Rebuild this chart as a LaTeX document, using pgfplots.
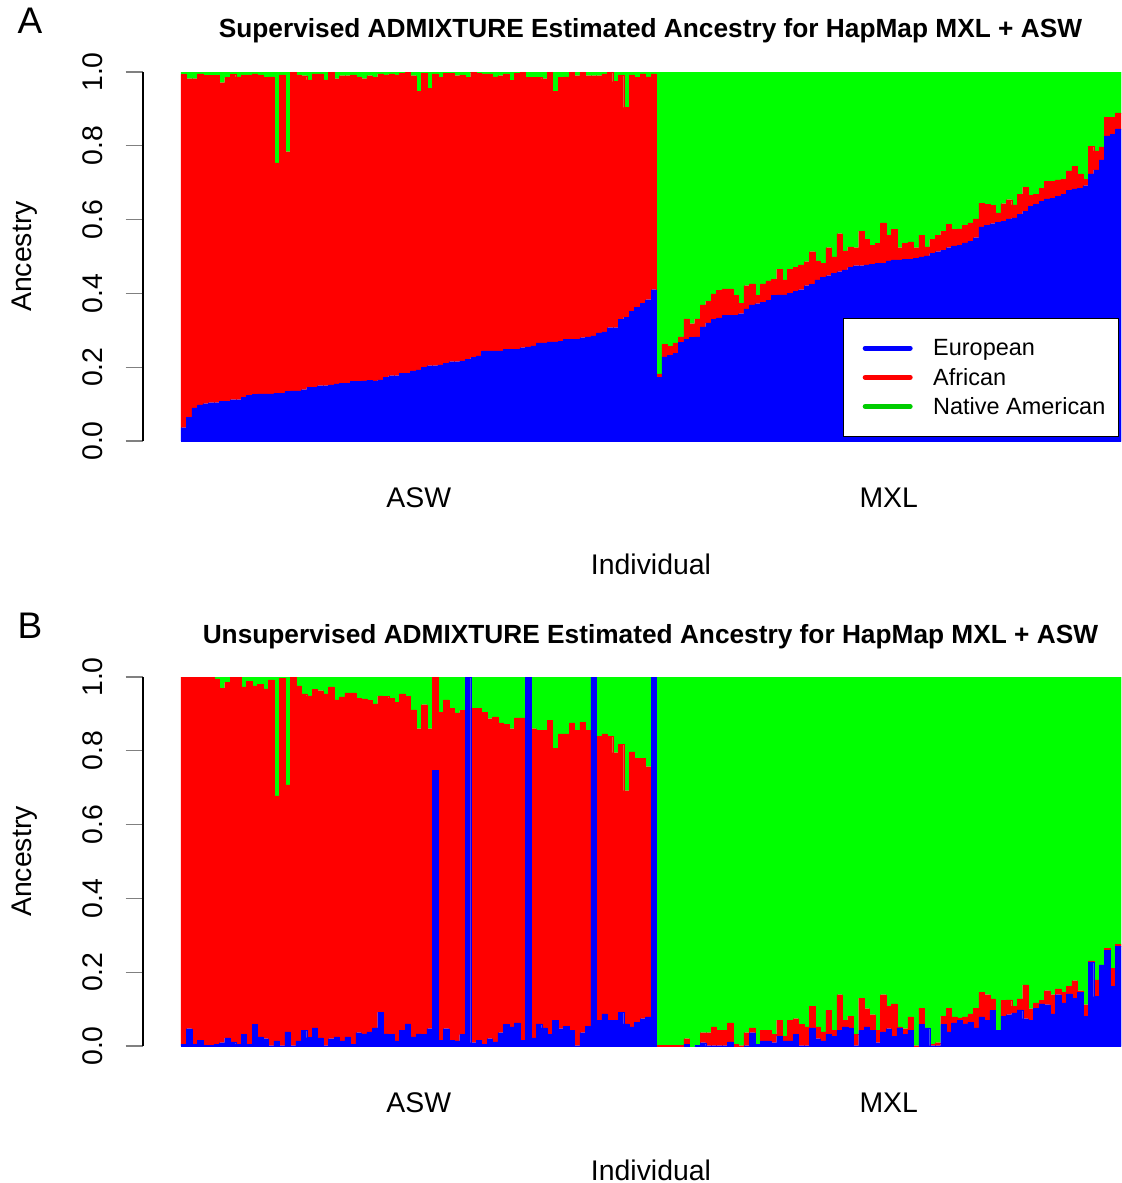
\documentclass[border=0pt]{standalone}
\usepackage{fontspec}
\setmainfont{Liberation Sans}
\usepackage{pgfplots}
\usepackage{pgfplotstable}
\pgfplotsset{compat=1.18}
\definecolor{rblue}{RGB}{0,0,255}
\definecolor{rred}{RGB}{255,0,0}
\definecolor{rgreen}{RGB}{0,255,0}
\definecolor{rgreenthree}{RGB}{0,205,0}

% ae/at: supervised European and European+African (cumulative), be/bt: unsupervised
\pgfplotstableread{
ae at be bt
0.036 0.993 0.005 1.000
0.065 0.982 0.047 1.000
0.090 0.982 0.004 1.000
0.098 0.995 0.016 1.000
0.101 0.991 0.002 1.000
0.104 0.991 0.002 1.000
0.104 0.991 0.004 0.995
0.108 0.971 0.009 0.970
0.108 0.985 0.022 0.985
0.112 0.994 0.011 1.000
0.112 0.987 0.005 1.000
0.119 0.992 0.031 0.973
0.123 0.992 0.004 0.989
0.126 0.995 0.058 0.976
0.128 0.992 0.025 0.981
0.128 0.985 0.020 0.968
0.128 0.987 0.001 0.992
0.130 0.754 0.014 0.678
0.130 0.992 0.001 0.997
0.134 0.784 0.038 0.708
0.136 1.000 0.001 1.000
0.136 0.992 0.014 0.976
0.139 0.990 0.043 0.954
0.145 0.979 0.023 0.949
0.146 0.995 0.049 0.967
0.150 0.995 0.022 0.963
0.150 0.979 0.001 0.954
0.152 1.000 0.020 0.973
0.155 0.982 0.025 0.938
0.157 0.990 0.014 0.946
0.157 0.990 0.025 0.957
0.161 0.992 0.004 0.957
0.161 0.987 0.036 0.943
0.163 0.982 0.033 0.941
0.165 0.990 0.038 0.936
0.163 0.985 0.049 0.927
0.166 0.995 0.092 0.949
0.172 0.992 0.033 0.947
0.177 0.995 0.031 0.943
0.177 0.992 0.014 0.932
0.184 0.996 0.043 0.954
0.184 0.999 0.060 0.947
0.190 0.990 0.025 0.911
0.193 0.947 0.033 0.860
0.199 0.997 0.031 0.925
0.204 0.955 0.047 0.860
0.204 0.995 0.748 1.000
0.206 0.985 0.016 0.905
0.210 0.997 0.047 0.938
0.215 0.997 0.016 0.916
0.215 0.990 0.014 0.903
0.217 0.992 0.031 0.909
0.222 0.985 1.000 1.000
0.226 1.000 0.009 0.916
0.231 0.997 0.016 0.916
0.244 0.995 0.005 0.905
0.244 0.995 0.020 0.887
0.244 0.987 0.011 0.892
0.244 0.990 0.036 0.876
0.248 0.995 0.058 0.871
0.249 0.977 0.052 0.860
0.249 0.997 0.063 0.889
0.253 1.000 0.016 0.889
0.255 0.985 1.000 1.000
0.258 0.985 0.022 0.860
0.266 0.985 0.060 0.855
0.266 0.982 0.049 0.855
0.269 1.000 0.031 0.883
0.269 0.947 0.069 0.806
0.271 0.985 0.047 0.846
0.275 0.987 0.054 0.846
0.276 1.000 0.042 0.876
0.276 0.990 0.001 0.855
0.280 1.000 0.036 0.878
0.282 0.990 0.054 0.856
0.285 0.990 1.000 1.000
0.293 0.990 0.070 0.840
0.296 0.995 0.087 0.846
0.307 1.000 0.070 0.840
0.307 0.974 0.069 0.795
0.329 0.992 0.092 0.817
0.336 0.904 0.060 0.692
0.352 0.992 0.052 0.797
0.363 0.985 0.065 0.779
0.374 0.995 0.074 0.780
0.383 0.987 0.079 0.757
0.410 0.995 1.000 1.000
0.173 0.182 0.000 0.002
0.228 0.262 0.000 0.002
0.232 0.257 0.000 0.002
0.237 0.266 0.000 0.002
0.268 0.282 0.000 0.002
0.276 0.331 0.004 0.020
0.281 0.318 0.000 0.000
0.282 0.331 0.002 0.002
0.309 0.369 0.009 0.036
0.320 0.379 0.001 0.036
0.329 0.399 0.001 0.052
0.334 0.408 0.001 0.043
0.340 0.412 0.001 0.042
0.340 0.412 0.011 0.063
0.340 0.394 0.000 0.005
0.345 0.374 0.000 0.001
0.358 0.421 0.001 0.036
0.369 0.426 0.036 0.049
0.372 0.394 0.005 0.005
0.376 0.426 0.014 0.043
0.381 0.434 0.014 0.042
0.394 0.439 0.009 0.031
0.396 0.466 0.027 0.070
0.396 0.437 0.014 0.027
0.401 0.466 0.014 0.069
0.405 0.470 0.031 0.074
0.410 0.477 0.001 0.058
0.421 0.486 0.001 0.052
0.425 0.513 0.049 0.108
0.437 0.488 0.020 0.052
0.444 0.482 0.014 0.038
0.448 0.524 0.031 0.096
0.455 0.499 0.027 0.042
0.459 0.562 0.042 0.139
0.464 0.515 0.052 0.070
0.470 0.526 0.049 0.081
0.475 0.524 0.001 0.031
0.475 0.569 0.042 0.130
0.477 0.546 0.052 0.101
0.479 0.531 0.042 0.085
0.481 0.535 0.009 0.042
0.481 0.591 0.038 0.139
0.488 0.558 0.047 0.107
0.491 0.573 0.027 0.114
0.491 0.524 0.049 0.052
0.493 0.535 0.031 0.047
0.493 0.540 0.043 0.079
0.495 0.524 0.000 0.001
0.499 0.558 0.058 0.103
0.502 0.526 0.049 0.049
0.508 0.546 0.001 0.005
0.513 0.558 0.001 0.009
0.517 0.569 0.058 0.081
0.524 0.587 0.038 0.103
0.529 0.573 0.063 0.079
0.531 0.575 0.069 0.076
0.537 0.584 0.060 0.079
0.542 0.591 0.065 0.087
0.551 0.602 0.049 0.103
0.580 0.645 0.079 0.146
0.584 0.641 0.069 0.139
0.589 0.638 0.096 0.128
0.593 0.618 0.042 0.043
0.596 0.643 0.081 0.123
0.602 0.654 0.085 0.125
0.605 0.640 0.090 0.108
0.614 0.668 0.098 0.128
0.623 0.688 0.074 0.166
0.636 0.665 0.070 0.101
0.641 0.668 0.103 0.117
0.649 0.685 0.114 0.123
0.656 0.703 0.112 0.150
0.658 0.703 0.087 0.139
0.663 0.708 0.139 0.155
0.668 0.710 0.117 0.145
0.679 0.732 0.141 0.161
0.683 0.744 0.130 0.177
0.685 0.724 0.146 0.150
0.692 0.710 0.081 0.112
0.724 0.799 0.228 0.231
0.735 0.786 0.134 0.179
0.762 0.797 0.220 0.220
0.827 0.878 0.260 0.264
0.831 0.878 0.161 0.211
0.846 0.889 0.271 0.275
}\admix

\pgfplotsset{
  admix/.style={
    scale only axis, width=733.5pt, height=276.75pt,
    xmin=-6.953, xmax=172, ymin=0, ymax=1,
    ybar stacked, bar width=1,
    axis x line*=bottom, axis y line*=left,
    x axis line style={draw=none},
    y axis line style={line width=1pt},
    tick align=outside, major tick length=13pt,
    xtick={43.5,129.5}, xticklabels={ASW,MXL},
    xtick style={draw=none},
    ytick={0,0.2,0.4,0.6,0.8,1}, yticklabels={0.0,0.2,0.4,0.6,0.8,1.0},
    ytick style={line width=1pt},
    tick label style={font=\fontsize{21.3}{25}\selectfont},
    yticklabel style={rotate=90, anchor=base},
    yticklabel shift=17.75pt,
    xticklabel style={anchor=base, yshift=-36.5pt},
    label style={font=\fontsize{21.3}{25}\selectfont},
    xlabel={Individual}, ylabel={Ancestry},
    xlabel style={at={(axis description cs:0.5194,-0.3631)}, anchor=base},
    ylabel style={at={(axis description cs:-0.1145,0.5)}, anchor=base},
    title style={at={(axis description cs:0.5189,1.0705)}, anchor=base,
      font=\bfseries\fontsize{19.7}{23}\selectfont},
  },
  eur/.style={fill=rblue, draw=rblue, line width=0.2pt,
    legend image code/.code={\path (-6.4pt,0pt);
      \draw[line width=3.75pt, line cap=round, rblue] (0pt,0pt) -- (33.75pt,0pt);}},
  afr/.style={fill=rred, draw=rred, line width=0.2pt,
    legend image code/.code={\path (-6.4pt,0pt);
      \draw[line width=3.75pt, line cap=round, rred] (0pt,0pt) -- (33.75pt,0pt);}},
  nat/.style={fill=rgreen, draw=rgreen, line width=0.2pt,
    legend image code/.code={\path (-6.4pt,0pt);
      \draw[line width=3.75pt, line cap=round, rgreenthree] (0pt,0pt) -- (33.75pt,0pt);}},
}

\begin{document}
\begin{tikzpicture}
\useasboundingbox (0,0) rectangle (841.5pt,-887.25pt);

\begin{axis}[admix, at={(107.25pt,-330.75pt)}, anchor=south west,
  title={Supervised ADMIXTURE Estimated Ancestry for HapMap MXL + ASW},
  legend style={at={(axis description cs:0.998,0.0108)}, anchor=south east,
    draw=black, line width=1pt, fill=white,
    inner xsep=9.75pt, inner ysep=11.45pt, row sep=0pt, column sep=15.4pt,
    font=\fontsize{17.6}{21}\selectfont,
    nodes={inner sep=0pt, text height=16.85pt, text depth=5.05pt},
    cells={anchor=west}}]
\addplot[eur] table[x expr=\coordindex+0.5, y=ae] {\admix};
\addplot[afr] table[x expr=\coordindex+0.5, y expr=\thisrow{at}-\thisrow{ae}] {\admix};
\addplot[nat] table[x expr=\coordindex+0.5, y expr=1-\thisrow{at}] {\admix};
\legend{European,African,Native American}
\end{axis}

\begin{axis}[admix, at={(107.25pt,-784.5pt)}, anchor=south west,
  title={Unsupervised ADMIXTURE Estimated Ancestry for HapMap MXL + ASW}]
\addplot[eur] table[x expr=\coordindex+0.5, y=be] {\admix};
\addplot[afr] table[x expr=\coordindex+0.5, y expr=\thisrow{bt}-\thisrow{be}] {\admix};
\addplot[nat] table[x expr=\coordindex+0.5, y expr=1-\thisrow{bt}] {\admix};
\end{axis}

\node[anchor=base west, font=\fontsize{27.75}{30}\selectfont] at (9.75pt,-24.75pt) {A};
\node[anchor=base west, font=\fontsize{27.75}{30}\selectfont] at (9.75pt,-478.5pt) {B};
\end{tikzpicture}
\end{document}
